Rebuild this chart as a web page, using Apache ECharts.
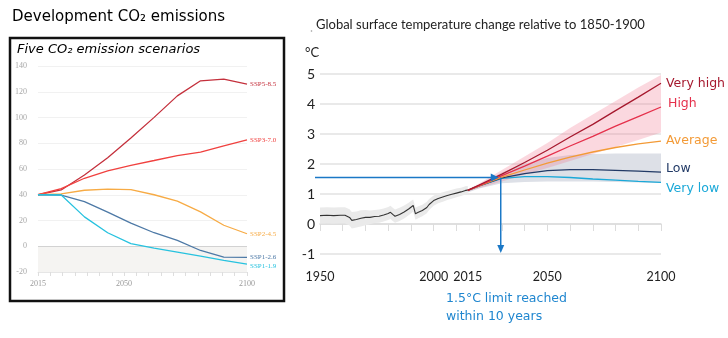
<!DOCTYPE html>
<html><head><meta charset="utf-8">
<script src="https://cdn.jsdelivr.net/npm/echarts@6/dist/echarts.min.js"></script>
<style>html,body{margin:0;padding:0;background:#fff}#c{width:728px;height:338px}</style>
</head><body><div id="c"></div>
<script>
// ---------- Left chart: CO2 emission scenarios (GtCO2/yr) ----------
const sspCategories = ['2015','2020','2030','2040','2050','2060','2070','2080','2090','2100'];
const ssp585 = [40, 43.7, 55.3, 68.8, 84.0, 100.1, 116.8, 128.5, 129.8, 126.0];
const ssp370 = [40, 44.8, 52.8, 58.5, 62.9, 66.6, 70.4, 73.1, 78.0, 82.7];
const ssp245 = [40, 40.6, 43.5, 44.3, 44.0, 40.0, 35.0, 26.7, 16.3, 9.7];
const ssp126 = [40, 39.8, 34.7, 26.5, 17.9, 10.5, 4.5, -3.3, -8.4, -8.6];
const ssp119 = [40, 39.8, 22.8, 10.5, 2.1, -1.5, -4.5, -7.7, -10.9, -13.9];
const sspNames = ['SSP5-8.5', 'SSP3-7.0', 'SSP2-4.5', 'SSP1-2.6', 'SSP1-1.9'];
const leftYearLabels = [2015, 2050, 2100];

// ---------- Right chart: temperature change (°C) ----------
const histYears = [1950,1953,1956,1959,1961,1963,1964,1966,1968,1970,1972,1974,1976,1978,1980,1981,1982,1983,1985,1987,1989,1990,1991,1992,1993,1995,1997,1998,2000,2002,2004,2006,2008,2010,2012,2014,2015];
const histMean = [0.28,0.29,0.28,0.29,0.29,0.22,0.12,0.15,0.19,0.22,0.22,0.25,0.26,0.30,0.35,0.39,0.32,0.26,0.32,0.40,0.50,0.56,0.62,0.34,0.38,0.45,0.55,0.65,0.78,0.85,0.90,0.95,0.99,1.03,1.07,1.12,1.13];
const histLow  = [0.01,0.02,0.01,0.02,0.02,-0.05,-0.15,-0.12,-0.08,-0.04,-0.01,0.03,0.04,0.08,0.13,0.17,0.10,0.04,0.10,0.18,0.29,0.35,0.42,0.14,0.18,0.26,0.36,0.47,0.61,0.69,0.74,0.80,0.84,0.89,0.93,0.98,0.99];
const histHigh = [0.55,0.56,0.55,0.56,0.56,0.49,0.40,0.42,0.46,0.47,0.45,0.47,0.48,0.52,0.57,0.61,0.54,0.48,0.54,0.62,0.71,0.77,0.82,0.54,0.58,0.64,0.74,0.83,0.95,1.01,1.06,1.10,1.14,1.18,1.21,1.26,1.27];

const projYears = [2015,2020,2030,2040,2050,2060,2070,2080,2090,2100];
const veryHigh = [1.12,1.30,1.66,2.05,2.46,2.90,3.32,3.78,4.23,4.69];
const high     = [1.12,1.28,1.61,1.93,2.26,2.60,2.92,3.26,3.58,3.90];
const average  = [1.12,1.27,1.56,1.80,2.03,2.23,2.40,2.55,2.67,2.76];
const low      = [1.12,1.27,1.54,1.68,1.78,1.81,1.81,1.79,1.76,1.73];
const veryLow  = [1.12,1.27,1.52,1.58,1.58,1.55,1.50,1.46,1.42,1.39];
const pinkLow  = [1.08,1.20,1.42,1.65,1.87,2.10,2.33,2.57,2.80,3.05];
const pinkHigh = [1.15,1.35,1.80,2.25,2.70,3.20,3.65,4.10,4.55,4.97];
const greyLow  = [1.05,1.18,1.36,1.40,1.42,1.42,1.42,1.40,1.38,1.37];
const greyHigh = [1.15,1.32,1.72,2.00,2.20,2.30,2.33,2.35,2.35,2.35];
const projNames = ['Very high','High','Average','Low','Very low'];
const rightYearLabels = [1950, 2000, 2050, 2100];
const extraYearLabel = 2015;
const limitYear = 2029.5, limitTemp = 1.55;

const pairs = (xs, ys) => xs.map((x, i) => [x, ys[i]]);

const leftColors = ['#c4303c', '#f0413f', '#f7ab45', '#4d79a6', '#27c2df'];
const leftData = [ssp585, ssp370, ssp245, ssp126, ssp119];
const leftLabelOffsets = [[0,0],[0,0],[0,0],[0,0],[0,2]];

const rightColors = ['#a6192e', '#e5304b', '#f39a36', '#223a66', '#1aa8d8'];
const rightData = [veryHigh, high, average, low, veryLow];
const rightLabelOffsets = [[0,0],[2,-3],[0,0],[0,-3],[0,6]];

const narrow = "'Liberation Sans Narrow', 'Lato', sans-serif";

const series = [];
leftData.forEach((d, i) => {
  series.push({
    type: 'line', name: sspNames[i], xAxisIndex: 0, yAxisIndex: 0, data: d,
    showSymbol: false, silent: true, z: 5,
    lineStyle: { color: leftColors[i], width: 1.3 }, itemStyle: { color: leftColors[i] },
    endLabel: { show: true, formatter: '{a}', fontSize: 7, color: leftColors[i], distance: 3,
      fontFamily: "'Liberation Serif', serif", offset: leftLabelOffsets[i] },
    markArea: i === 0 ? { silent: true, itemStyle: { color: '#f5f4f2' }, data: [[{ yAxis: -20 }, { yAxis: 0 }]] } : undefined,
    markLine: i === 0 ? { silent: true, symbol: 'none', label: { show: false },
      lineStyle: { color: '#d2d2d2', width: 1, type: 'solid' }, data: [{ yAxis: 0 }] } : undefined
  });
});

function band(xs, lo, hi, color, z) {
  series.push({
    type: 'custom', xAxisIndex: 2, yAxisIndex: 1, silent: true, z,
    data: xs.map((x, i) => [x, lo[i], hi[i]]),
    encode: { x: 0, y: [1, 2] },
    renderItem: (params, api) => {
      if (params.dataIndex !== 0) return null;
      const top = xs.map((x, i) => api.coord([x, hi[i]]));
      const bot = xs.map((x, i) => api.coord([x, lo[i]])).reverse();
      return { type: 'polygon', shape: { points: top.concat(bot) }, style: { fill: color } };
    }
  });
}
band(histYears, histLow, histHigh, '#eaeaea', 2);
band(projYears, greyLow, greyHigh, '#dde0e7', 2);
band(projYears, pinkLow, pinkHigh, 'rgba(240,110,135,0.27)', 3);

series.push({ type: 'line', xAxisIndex: 2, yAxisIndex: 1, data: pairs(histYears, histMean),
  showSymbol: false, silent: true, z: 6, lineStyle: { color: '#333', width: 1.1 } });

rightData.forEach((d, i) => {
  series.push({
    type: 'line', name: projNames[i], xAxisIndex: 2, yAxisIndex: 1, data: pairs(projYears, d),
    showSymbol: false, silent: true, z: 10 - i,
    lineStyle: { color: rightColors[i], width: 1.3 }, itemStyle: { color: rightColors[i] },
    endLabel: { show: true, formatter: '{a}', fontSize: 12.5, color: rightColors[i], distance: 5,
      fontFamily: "'DejaVu Sans', sans-serif", offset: rightLabelOffsets[i] }
  });
});

const chart = echarts.init(document.getElementById('c'), null, { renderer: 'canvas' });
const option = {
  animation: false,
  backgroundColor: '#fff',
  grid: [
    { left: 38, right: 728 - 247, top: 66, bottom: 338 - 272 },
    { left: 320, right: 728 - 661, top: 74, bottom: 84 }
  ],
  xAxis: [
    { type: 'category', gridIndex: 0, position: 'top', data: sspCategories, boundaryGap: false, show: false },
    { type: 'value', gridIndex: 0, position: 'bottom', min: 2015, max: 2100, interval: 5,
      axisLine: { show: true, lineStyle: { color: '#e6e6e6' } },
      axisTick: { show: true, length: 4, lineStyle: { color: '#dedede' } },
      splitLine: { show: false },
      axisLabel: { fontSize: 8, color: '#999', margin: 8, fontFamily: "'Liberation Serif', serif",
        showMinLabel: true, showMaxLabel: true,
        formatter: v => leftYearLabels.includes(v) ? String(v) : '' } },
    { type: 'value', gridIndex: 1, position: 'bottom', min: 1950, max: 2100, interval: 10,
      axisLine: { show: true, lineStyle: { color: '#dcdcdc', width: 1.5 } },
      axisTick: { show: true, length: 7, lineStyle: { color: '#dcdcdc', width: 1 } },
      splitLine: { show: false },
      axisLabel: { fontSize: 12.5, color: '#222', margin: 16, fontFamily: narrow,
        showMinLabel: true, showMaxLabel: true,
        formatter: v => rightYearLabels.includes(v) ? String(v) : '' } },
    { type: 'value', gridIndex: 1, position: 'bottom', offset: 0, min: 1950, max: 2100, interval: 5,
      axisLine: { show: false }, axisTick: { show: false }, splitLine: { show: false },
      axisLabel: { fontSize: 12.5, color: '#222', margin: 16, fontFamily: narrow,
        formatter: v => v === extraYearLabel ? String(v) : '' } }
  ],
  yAxis: [
    { type: 'value', gridIndex: 0, min: -20, max: 140, interval: 20,
      axisLine: { show: false }, axisTick: { show: false },
      splitLine: { lineStyle: { color: '#f1f1f1', width: 1 } },
      axisLabel: { fontSize: 8, color: '#a8a8a8', margin: 11, fontFamily: "'Liberation Serif', serif" } },
    { type: 'value', gridIndex: 1, min: -1, max: 5, interval: 1,
      axisLine: { show: false }, axisTick: { show: false },
      splitLine: { lineStyle: { color: '#e2e2e2', width: 1.5 } },
      axisLabel: { fontSize: 14, color: '#222', margin: 5, fontFamily: narrow } }
  ],
  graphic: [
    { type: 'text', left: 12, top: 10, style: { text: 'Development CO₂ emissions', fontSize: 15,
      fontFamily: "'DejaVu Sans', sans-serif", fill: '#000' } },
    { type: 'rect', shape: { x: 10, y: 38, width: 274, height: 263 },
      style: { fill: 'none', stroke: '#111', lineWidth: 2.5 }, z: 100 },
    { type: 'text', left: 17, top: 43, style: { text: 'Five CO₂ emission scenarios', fontSize: 13,
      fontStyle: 'italic', fontFamily: "'DejaVu Sans', sans-serif", fill: '#000' } },
    { type: 'text', left: 316, top: 18, style: { text: 'Global surface temperature change relative to 1850-1900',
      fontSize: 13, fontFamily: "'Lato', sans-serif", fill: '#222' } },
    { type: 'circle', shape: { cx: 311.5, cy: 31, r: 0.8 }, style: { fill: '#999' } },
    { type: 'text', left: 305, top: 46, style: { text: '°C', fontSize: 13, fontFamily: narrow, fill: '#222' } },
    { type: 'text', left: 446, top: 292, style: { text: '1.5°C limit reached', fontSize: 12.5,
      fontFamily: "'DejaVu Sans', sans-serif", fill: '#1f86cf' } },
    { type: 'text', left: 446, top: 310, style: { text: 'within 10 years', fontSize: 12.5,
      fontFamily: "'DejaVu Sans', sans-serif", fill: '#1f86cf' } }
  ],
  series
};
chart.setOption(option);

// Arrows for the 1.5°C annotation, positioned via the chart's own scales
const pCross = chart.convertToPixel({ gridIndex: 1 }, [limitYear, limitTemp]);
const pBottom = chart.convertToPixel({ gridIndex: 1 }, [limitYear, -1]);
const blue = '#1b78c6';
const arrows = [
  { type: 'line', shape: { x1: 315, y1: pCross[1], x2: pCross[0] - 6, y2: pCross[1] }, style: { stroke: blue, lineWidth: 1.5 }, z: 50 },
  { type: 'polygon', shape: { points: [[pCross[0] - 2, pCross[1]], [pCross[0] - 10, pCross[1] - 4], [pCross[0] - 10, pCross[1] + 4]] },
    style: { fill: blue }, z: 50 },
  { type: 'line', shape: { x1: pCross[0], y1: pCross[1], x2: pCross[0], y2: pBottom[1] - 6 }, style: { stroke: blue, lineWidth: 1.5 }, z: 50 },
  { type: 'polygon', shape: { points: [[pCross[0], pBottom[1] - 1], [pCross[0] - 3.5, pBottom[1] - 9], [pCross[0] + 3.5, pBottom[1] - 9]] },
    style: { fill: blue }, z: 50 }
];
chart.setOption({ graphic: option.graphic.concat(arrows) });
</script></body></html>
